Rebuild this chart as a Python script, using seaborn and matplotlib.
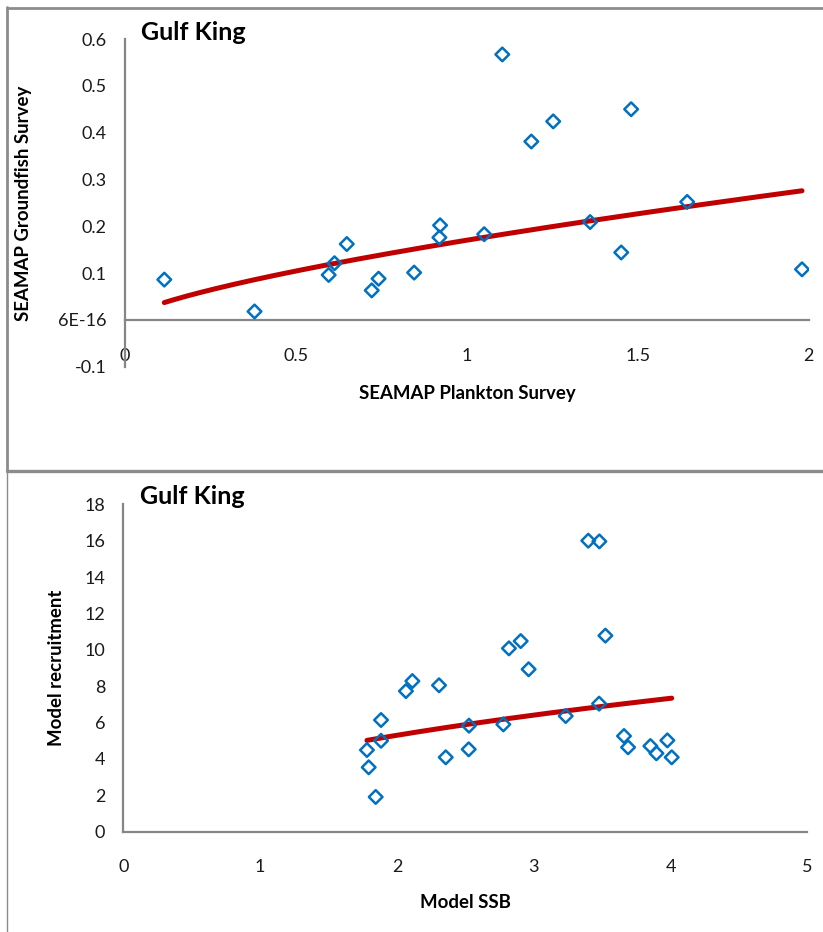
import numpy as np
import pandas as pd
import matplotlib
matplotlib.use("Agg")
import matplotlib.pyplot as plt
from matplotlib.lines import Line2D
import seaborn as sns

# ---------------- data ----------------
title_text = "Gulf King"

plankton_x = [0.115, 0.379, 0.596, 0.613, 0.649, 0.722, 0.742, 0.846, 0.922, 0.920,
              1.051, 1.104, 1.189, 1.253, 1.361, 1.452, 1.481, 1.645, 1.981]
groundfish_y = [0.086, 0.018, 0.096, 0.121, 0.162, 0.063, 0.088, 0.101, 0.202, 0.176,
                0.183, 0.567, 0.381, 0.424, 0.209, 0.144, 0.450, 0.252, 0.108]

ssb_x = [1.781, 1.794, 1.845, 1.884, 1.884, 2.066, 2.113, 2.308, 2.357, 2.527, 2.525,
         2.778, 2.819, 2.905, 2.963, 3.234, 3.399, 3.480, 3.478, 3.524, 3.660, 3.690,
         3.853, 3.897, 3.977, 4.009]
recruit_y = [4.49, 3.54, 1.91, 6.14, 5.00, 7.73, 8.28, 8.05, 4.09, 5.83, 4.53,
             5.90, 10.08, 10.48, 8.93, 6.36, 16.0, 15.96, 7.04, 10.78, 5.26, 4.64,
             4.71, 4.31, 5.02, 4.09]

top_xticks = [0, 0.5, 1, 1.5, 2]
top_xticklabels = ["0", "0.5", "1", "1.5", "2"]
top_yticks = [-0.1, 0.0, 0.1, 0.2, 0.3, 0.4, 0.5, 0.6]
top_yticklabels = ["-0.1", "6E-16", "0.1", "0.2", "0.3", "0.4", "0.5", "0.6"]
top_xlabel = "SEAMAP Plankton Survey"
top_ylabel = "SEAMAP Groundfish Survey"

bot_xticks = [0, 1, 2, 3, 4, 5]
bot_yticks = [0, 2, 4, 6, 8, 10, 12, 14, 16, 18]
bot_xlabel = "Model SSB"
bot_ylabel = "Model recruitment"

# ---------------- style ----------------
sns.set_style("white")
plt.rcParams["font.family"] = ["Lato", "DejaVu Sans"]

MARKER_COLOR = "#0070C0"
TREND_COLOR = "#C00000"
AXIS_COLOR = "#868686"
TEXT_COLOR = "#1a1a1a"
LABEL_SIZE = 13.4
W, H = 823, 932

fig = plt.figure(figsize=(W / 100, H / 100), dpi=100)


def px_axes(left, right, top, bottom):
    return fig.add_axes([left / W, 1 - bottom / H, (right - left) / W, (bottom - top) / H])


def power_fit(x, y):
    x = np.asarray(x, float)
    y = np.asarray(y, float)
    b, lna = np.polyfit(np.log(x), np.log(y), 1)
    xs = np.linspace(x.min(), x.max(), 200)
    return pd.DataFrame({"x": xs, "y": np.exp(lna) * xs ** b})


def style_axes(ax, xticks, xlabels, yticks, ylabels, xpad, ypad):
    for s in ["top", "right"]:
        ax.spines[s].set_visible(False)
    for s in ["left", "bottom"]:
        ax.spines[s].set_color(AXIS_COLOR)
        ax.spines[s].set_linewidth(1.6)
    ax.spines["bottom"].set_position(("data", 0))
    ax.set_xticks(xticks)
    ax.set_xticklabels(xlabels)
    ax.set_yticks(yticks)
    ax.set_yticklabels(ylabels)
    ax.tick_params(axis="x", length=0, pad=xpad, labelsize=13, labelcolor=TEXT_COLOR)
    ax.tick_params(axis="y", length=0, pad=ypad, labelsize=13, labelcolor=TEXT_COLOR)
    ax.set_xlabel("")
    ax.set_ylabel("")
    ax.grid(False)
    ax.set_facecolor("none")


# ---------------- top chart ----------------
ax1 = px_axes(125, 808.5, 39, 366.7)
df1 = pd.DataFrame({"x": plankton_x, "y": groundfish_y})
sns.lineplot(data=power_fit(plankton_x, groundfish_y), x="x", y="y", ax=ax1,
             color=TREND_COLOR, linewidth=3.6, solid_capstyle="round", zorder=2)
sns.scatterplot(data=df1, x="x", y="y", ax=ax1, marker="D", s=48,
                facecolor="none", edgecolor=MARKER_COLOR, linewidth=1.8, zorder=3)
ax1.set_xlim(0, 2)
ax1.set_ylim(-0.1, 0.6)
style_axes(ax1, top_xticks, top_xticklabels, top_yticks, top_yticklabels, 20, 13)
fig.text(141 / W, 1 - 32 / H, title_text, fontsize=18, fontweight="bold",
         color="black", va="center", ha="left")
fig.text(467 / W, 1 - 393 / H, top_xlabel, fontsize=LABEL_SIZE, fontweight="bold",
         color="black", ha="center", va="center")
fig.text(24 / W, 1 - 203 / H, top_ylabel, fontsize=LABEL_SIZE, fontweight="bold",
         color="black", ha="center", va="center", rotation=90)

# ---------------- bottom chart ----------------
ax2 = px_axes(123.3, 807.3, 504.3, 831.7)
df2 = pd.DataFrame({"x": ssb_x, "y": recruit_y})
sns.lineplot(data=power_fit(ssb_x, recruit_y), x="x", y="y", ax=ax2,
             color=TREND_COLOR, linewidth=3.6, solid_capstyle="round", zorder=2)
sns.scatterplot(data=df2, x="x", y="y", ax=ax2, marker="D", s=48,
                facecolor="none", edgecolor=MARKER_COLOR, linewidth=1.8, zorder=3)
ax2.set_xlim(0, 5)
ax2.set_ylim(0, 18)
style_axes(ax2, bot_xticks, [str(v) for v in bot_xticks], bot_yticks,
           [str(v) for v in bot_yticks], 20, 13)
fig.text(140 / W, 1 - 496 / H, title_text, fontsize=18, fontweight="bold",
         color="black", va="center", ha="left")
fig.text(465.5 / W, 1 - 903 / H, bot_xlabel, fontsize=LABEL_SIZE, fontweight="bold",
         color="black", ha="center", va="center")
fig.text(57 / W, 1 - 667.5 / H, bot_ylabel, fontsize=LABEL_SIZE, fontweight="bold",
         color="black", ha="center", va="center", rotation=90)

# ---------------- chart frames ----------------
BORDER = "#8c8c8c"
def fig_line(x0, y0, x1, y1, lw):
    fig.add_artist(Line2D([x0 / W, x1 / W], [1 - y0 / H, 1 - y1 / H],
                          color=BORDER, linewidth=lw, transform=fig.transFigure))

fig_line(7, 7.5, W, 7.5, 2.0)       # top frame, top edge
fig_line(7.5, 7, 7.5, 471, 2.0)     # top frame, left edge
fig_line(7, 471, W, 471, 2.4)       # top frame bottom / bottom frame top
fig_line(7, 471, 7, H, 1.0)         # bottom frame, left edge

fig.savefig("out.png", dpi=100, facecolor="white")
